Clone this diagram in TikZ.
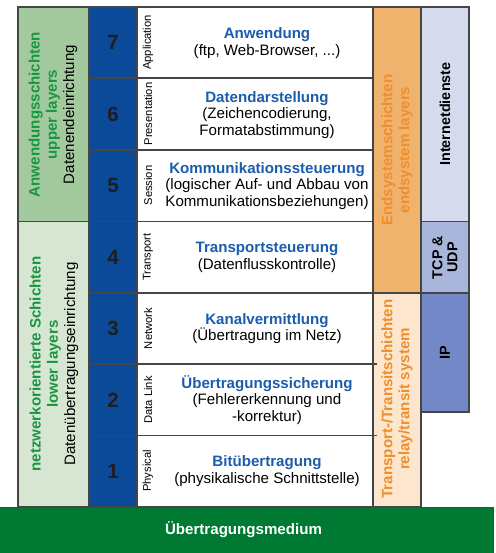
\documentclass[tikz,border=0pt]{standalone}
\usepackage{fontspec}
\setmainfont{Liberation Sans}
\definecolor{edgegray}{HTML}{454545}
\definecolor{greenup}{HTML}{A3C99F}
\definecolor{greenlow}{HTML}{D7E6D3}
\definecolor{greentext}{HTML}{1A9641}
\definecolor{layerblue}{HTML}{0B4A98}
\definecolor{titleblue}{HTML}{1B5DAD}
\definecolor{orangeup}{HTML}{F0B36E}
\definecolor{orangelow}{HTML}{FDE6CE}
\definecolor{orangetext}{HTML}{EF8F2C}
\definecolor{inetblue}{HTML}{D5DAEC}
\definecolor{tcpblue}{HTML}{A9B6DB}
\definecolor{ipblue}{HTML}{7388C6}
\definecolor{mediumgreen}{HTML}{007A33}
\definecolor{numbercol}{HTML}{1E1E1E}
\newcommand{\grn}[1]{\textbf{\color{greentext}#1}}
\newcommand{\ttl}[1]{\textbf{\color{titleblue}#1}}
\begin{document}
\begin{tikzpicture}[x=1pt,y=-1pt,
  frame/.style={draw=edgegray,line width=1.4pt},
  rowline/.style={draw=edgegray,line width=1.4pt},
  bigtext/.style={font=\bfseries\fontsize{15.1}{17}\selectfont,align=center,inner sep=0pt},
  sidetext/.style={font=\fontsize{15.1}{17.2}\selectfont,align=center,inner sep=0pt,rotate=90},
  boldside/.style={sidetext,font=\bfseries\fontsize{15.1}{17}\selectfont},
  layerdesc/.style={font=\fontsize{15.1}{16.8}\selectfont,align=center,inner sep=0pt},
  layernum/.style={font=\bfseries\fontsize{20.5}{20.5}\selectfont,text=numbercol,inner sep=0pt},
  layername/.style={font=\fontsize{11.2}{12}\selectfont,rotate=90,inner sep=0pt},
]
\useasboundingbox (0,0) rectangle (495,553);

% column fills
\fill[greenup] (18,7) rectangle (89,221.5);
\fill[greenlow] (18,221.5) rectangle (89,507);
\fill[layerblue] (89,7) rectangle (137,507);
\fill[white] (137,7) rectangle (373,507);
\fill[orangeup] (373,7) rectangle (421,293);
\fill[orangelow] (373,293) rectangle (421,507);
\fill[inetblue] (421,7) rectangle (469,221.5);
\fill[tcpblue] (421,221.5) rectangle (469,293);
\fill[ipblue] (421,293) rectangle (469,412);

% row separators of the seven layers
\foreach \yy in {78,150,221.5,293} \draw[rowline] (89,\yy) -- (373,\yy);
\foreach \yy in {364,435.5} \draw[rowline] (89,\yy) -- (377,\yy);

% column frames
\draw[frame] (18,7) rectangle (89,507);
\draw[frame] (18,221.5) -- (89,221.5);
\draw[frame] (89,7) rectangle (137,507);
\draw[frame] (137,7) rectangle (373,507);
\draw[frame] (373,7) rectangle (421,507);
\draw[frame] (373,293) -- (421,293);
\draw[frame] (421,7) rectangle (469,412);
\draw[frame] (421,221.5) -- (469,221.5);
\draw[frame] (421,293) -- (469,293);

% transmission medium
\fill[mediumgreen] (0,507) rectangle (493,553);
\draw[draw=edgegray,line width=0.8pt] (0,507) -- (493,507) -- (493,553);
\node[bigtext,text=white] (medium) at (243.5,530) {Übertragungsmedium};

% left column: upper / lower layers
\node[sidetext] (upper) at (53,114.5)
  {\grn{Anwendungsschichten}\\\grn{upper layers}\\Datenendeinrichtung};
\node[sidetext] (lower) at (54,364)
  {\grn{netzwerkorientierte Schichten}\\\grn{lower layers}\\Datenübertragungseinrichtung};

% layer numbers
\node[layernum] (n7) at (113,42.5) {7};
\node[layernum] (n6) at (113,114) {6};
\node[layernum] (n5) at (113,185.5) {5};
\node[layernum] (n4) at (113,257) {4};
\node[layernum] (n3) at (113,328.5) {3};
\node[layernum] (n2) at (113,400) {2};
\node[layernum] (n1) at (113,471) {1};

% layer names
\node[layername] (l7) at (148,42.5) {Application};
\node[layername] (l6) at (148,114) {Presentation};
\node[layername] (l5) at (148,185.5) {Session};
\node[layername] (l4) at (148,257) {Transport};
\node[layername] (l3) at (148,328.5) {Network};
\node[layername] (l2) at (148,400) {Data Link};
\node[layername] (l1) at (148,471) {Physical};

% layer functions
\node[layerdesc] (f7) at (267,43) {\ttl{Anwendung}\\(ftp, Web-Browser, ...)};
\node[layerdesc] (f6) at (267,115) {\ttl{Datendarstellung}\\(Zeichencodierung,\\Formatabstimmung)};
\node[layerdesc] (f5) at (267,186) {\ttl{Kommunikationssteuerung}\\(logischer Auf- und Abbau von\\Kommunikationsbeziehungen)};
\node[layerdesc] (f4) at (267,257) {\ttl{Transportsteuerung}\\(Datenflusskontrolle)};
\node[layerdesc] (f3) at (267,328.5) {\ttl{Kanalvermittlung}\\(Übertragung im Netz)};
\node[layerdesc] (f2) at (267,400) {\ttl{Übertragungssicherung}\\(Fehlererkennung und\\-korrektur)};
\node[layerdesc] (f1) at (267,471) {\ttl{Bitübertragung}\\(physikalische Schnittstelle)};

% end system / transit system column
\node[boldside,text=orangetext] (endsys) at (397,150)
  {Endsystemschichten\\endsystem layers};
\node[boldside,text=orangetext] (transit) at (397,399)
  {Transport-/Transitschichten\\relay/transit system};

% internet protocol column
\node[boldside,font=\bfseries\fontsize{14.4}{15}\selectfont] (inet) at (445,114) {Internetdienste};
\node[boldside,font=\bfseries\fontsize{14.4}{15}\selectfont] (tcp) at (445,257.5) {TCP \&\\UDP};
\node[boldside,font=\bfseries\fontsize{14.4}{15}\selectfont] (ip) at (445,352.5) {IP};
\end{tikzpicture}
\end{document}
